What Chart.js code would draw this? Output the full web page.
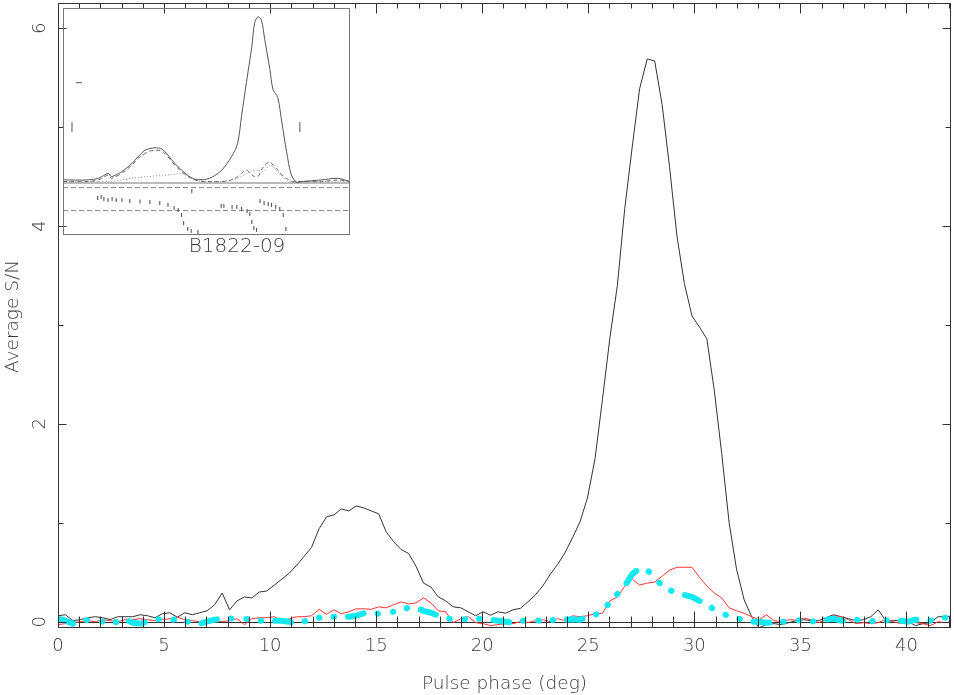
<!DOCTYPE html>
<html><head><meta charset="utf-8">
<script src="https://cdn.jsdelivr.net/npm/chart.js@4/dist/chart.umd.min.js"></script>
<style>
html,body{margin:0;padding:0;background:#fff;}
#wrap{position:relative;width:954px;height:695px;overflow:hidden;}
#main{position:absolute;left:0;top:0;}
#inset{position:absolute;left:63px;top:8px;}
</style></head><body>
<div id="wrap"><canvas id="main" width="954" height="695"></canvas><canvas id="inset" width="287" height="227"></canvas></div>
<script>
// ---- main chart data ----
const phase = [0.00,0.35,0.70,1.05,1.41,1.76,2.11,2.46,2.81,3.16,
3.52,3.87,4.22,4.57,4.92,5.27,5.63,5.98,6.33,6.68,
7.03,7.38,7.74,8.09,8.44,8.79,9.14,9.49,9.84,10.20,
10.55,10.90,11.25,11.60,11.95,12.31,12.66,13.01,13.36,13.71,
14.06,14.42,14.77,15.12,15.47,15.82,16.17,16.53,16.88,17.23,
17.58,17.93,18.28,18.63,18.99,19.34,19.69,20.04,20.39,20.74,
21.10,21.45,21.80,22.15,22.50,22.85,23.21,23.56,23.91,24.26,
24.61,24.96,25.32,25.67,26.02,26.37,26.72,27.07,27.42,27.78,
28.13,28.48,28.83,29.18,29.53,29.89,30.24,30.59,30.94,31.29,
31.64,31.99,32.35,32.70,33.05,33.40,33.75,34.10,34.46,34.81,
35.16,35.51,35.86,36.21,36.56,36.92,37.27,37.62,37.97,38.32,
38.67,39.02,39.38,39.73,40.08,40.43,40.78,41.13,41.49,41.84,42.19];
const totalSN = [0.06,0.07,0.01,0.02,0.04,0.05,0.04,0.02,0.05,0.05,
0.05,0.07,0.06,0.04,0.08,0.09,0.045,0.09,0.07,0.09,
0.11,0.17,0.29,0.12,0.21,0.25,0.24,0.30,0.31,0.37,
0.43,0.49,0.57,0.66,0.75,0.94,1.06,1.08,1.14,1.12,
1.17,1.15,1.12,1.09,0.91,0.81,0.73,0.69,0.56,0.39,
0.35,0.25,0.21,0.15,0.14,0.10,0.06,0.10,0.065,0.10,
0.085,0.12,0.135,0.20,0.27,0.36,0.48,0.58,0.70,0.85,
1.01,1.25,1.65,2.25,2.87,3.40,4.18,4.80,5.39,5.69,
5.67,5.23,4.60,3.90,3.42,3.09,2.98,2.86,2.34,1.70,
1.00,0.53,0.22,0.05,-0.06,-0.03,-0.02,-0.03,-0.01,0.01,
0.02,0.01,0.01,0.04,0.07,0.05,0.03,0.01,0.02,0.05,
0.12,0.01,0.01,0.01,0.0,-0.04,-0.02,-0.01,0.05,0.05,0.06];
const redSN = [-0.03,-0.02,-0.01,0.0,0.01,0.0,0.02,0.01,0.0,0.02,
0.02,0.03,0.02,0.01,0.02,0.03,0.045,0.02,0.01,0.0,
0.01,0.01,0.0,0.01,0.03,-0.03,0.03,0.04,0.04,0.05,
0.01,0.03,0.05,0.05,0.06,0.125,0.075,0.12,0.08,0.10,
0.13,0.13,0.125,0.15,0.14,0.17,0.20,0.18,0.19,0.24,
0.19,0.11,0.10,-0.01,0.03,0.05,-0.01,-0.02,-0.04,-0.03,
-0.02,-0.02,0.0,-0.01,0.01,0.02,0.0,0.03,0.01,0.06,
0.05,0.06,0.08,0.085,0.21,0.25,0.36,0.43,0.37,0.39,
0.40,0.46,0.52,0.55,0.55,0.55,0.45,0.36,0.29,0.24,
0.14,0.11,0.085,0.05,0.02,0.07,0.01,0.0,0.02,0.015,
0.035,0.02,-0.01,0.02,0.06,0.05,0.02,-0.02,-0.01,-0.02,
-0.01,0.02,0.0,-0.02,0.01,-0.01,-0.02,-0.04,0.0,-0.01,0.0];
const cyanSN = [0.03,0.01,-0.02,-0.01,0.02,0.01,0.0,0.02,-0.01,0.02,
-0.01,-0.02,0.0,0.02,0.03,0.01,0.03,0.0,0.0,-0.02,
0.0,0.02,0.03,0.03,0.04,0.03,0.02,0.01,0.01,0.01,
0.01,0.0,-0.02,0.0,0.04,0.04,0.05,0.05,0.05,0.05,
0.06,0.085,0.09,0.08,0.09,0.10,0.11,0.145,0.14,0.11,
0.09,0.06,0.04,0.02,0.02,0.03,0.03,0.03,0.02,0.01,
0.0,-0.01,0.01,0.01,0.02,0.0,0.01,0.03,0.02,0.025,
0.02,0.05,0.07,0.10,0.20,0.28,0.36,0.48,0.54,0.52,
0.45,0.36,0.32,0.29,0.27,0.25,0.21,0.18,0.12,0.08,
0.06,0.04,0.01,0.0,0.0,-0.01,-0.01,0.0,0.0,0.01,
0.02,0.0,0.01,0.02,0.03,0.01,0.01,0.02,0.01,0.0,
0.02,0.01,0.02,0.01,0.0,0.02,0.01,0.01,0.05,0.04,0.07];
const xMajorTicks = [0,5,10,15,20,25,30,35,40];
const xTickLabels = ['0','5','10','15','20','25','30','35','40'];
const xMinorTicks = [1,2,3,4,6,7,8,9,11,12,13,14,16,17,18,19,21,22,23,24,26,27,28,29,31,32,33,34,36,37,38,39,41,42];
const yMajorTicks = [0,2,4,6];
const yTickLabels = ['0','2','4','6'];
const yMinorTicks = [1,3,5];
const xTitle = 'Pulse phase (deg)';
const yTitle = 'Average S/N';
const insetTitle = 'B1822-09';

// ---- inset data ----
const insetPhase = [0.05,3.7,5.2,6.65,7.1,8.6,10.1,11.0,12.0,12.75,13.5,14.5,15.4,16.4,17.4,18.4,19.35,20.8,22.0,23.3,24.7,25.6,26.2,26.9,27.7,28.1,28.6,29.1,29.6,30.35,30.8,31.5,32.1,32.8,33.5,34.3,35.0,37.9,40.3,42.1];
const insetI = [0.01,0.01,0.02,0.05,0.03,0.06,0.11,0.15,0.19,0.20,0.205,0.198,0.16,0.11,0.07,0.035,0.015,0.013,0.03,0.07,0.15,0.23,0.40,0.60,0.82,0.96,1.0,0.98,0.86,0.68,0.56,0.51,0.36,0.18,0.04,-0.005,0.0,0.01,0.02,0.0];
const insetL = [0.0,0.0,0.01,0.04,0.02,0.05,0.10,0.14,0.17,0.185,0.19,0.185,0.15,0.10,0.06,0.03,0.01,0.0,0.0,0.0,0.01,0.03,0.05,0.07,0.04,0.03,0.03,0.07,0.10,0.12,0.10,0.07,0.04,0.02,0.0,0.0,0.0,0.0,0.01,0.0];
const insetV = [0,0,0,0,0,0.01,0.02,0.025,0.03,0.03,0.035,0.035,0.04,0.045,0.05,0.03,0.01,0,0,0,0.01,0.02,0.03,0.05,0.07,0.07,0.07,0.06,0.07,0.1,0.09,0.06,0.03,0.01,0,0,0,0,0,0];
const paPhase = [5.1,5.6,6.0,6.6,7.2,7.8,8.65,9.8,11.3,12.75,14.2,15.4,16.3,16.9,17.4,17.7,18.3,18.8,19.8,18.9,
23.2,23.6,24.8,25.5,26.2,27.0,27.4,27.7,28.0,28.4,
28.9,29.5,30.1,30.6,31.2,31.8,32.3,32.7];
const paAngle = [47,51,43,39,43,39,39,35,33,31,27,20,8,0,-20,-51,-74,-82,-86,74,
16,16,12,12,4,-4,-16,-47,-70,-78,
35,27,23,20,12,4,-20,-74];
const paRefLines = [90,0];
const markHPhase = [2.35], markHVal = [0.60];
const markVPhase = [1.32,34.75], markVVal = [0.33,0.33];

const FONT = '"DejaVu Sans", sans-serif';
const TXT = '#3a3a3a';

const framePlugin = {
  id: 'frame',
  beforeDatasetsDraw(chart) {
    const {ctx, chartArea: a, scales: {y}} = chart;
    ctx.save();
    ctx.strokeStyle = '#333'; ctx.lineWidth = 1;
    const y0 = Math.round(y.getPixelForValue(0)) + 0.5;
    ctx.beginPath(); ctx.moveTo(a.left, y0); ctx.lineTo(a.right, y0); ctx.stroke();
    ctx.restore();
  },
  afterDatasetsDraw(chart) {
    const {ctx, chartArea: a, scales: {x, y}} = chart;
    ctx.save();
    ctx.strokeStyle = '#333'; ctx.lineWidth = 1;
    const L = a.left + 0.5, R = a.right - 0.5, T = a.top + 0.5, B = a.bottom - 0.5;
    ctx.strokeRect(L, T, R - L, B - T);
    ctx.beginPath();
    const xt = (v, lb, lt) => { const px = Math.round(x.getPixelForValue(v)) + 0.5;
      ctx.moveTo(px, B); ctx.lineTo(px, B - lb); ctx.moveTo(px, T); ctx.lineTo(px, T + lt); };
    xMajorTicks.forEach(v => xt(v, 16, 10));
    xMinorTicks.forEach(v => xt(v, 11, 5));
    const yt = (v, l) => { const py = Math.round(y.getPixelForValue(v)) + 0.5;
      ctx.moveTo(L, py); ctx.lineTo(L + l, py); ctx.moveTo(R, py); ctx.lineTo(R - l, py); };
    yMajorTicks.forEach(v => yt(v, 8));
    yMinorTicks.forEach(v => yt(v, 5));
    ctx.stroke();
    // labels
    ctx.fillStyle = TXT;
    ctx.font = '200 18px ' + FONT;
    ctx.textAlign = 'center'; ctx.textBaseline = 'middle';
    xMajorTicks.forEach((v, i) => ctx.fillText(xTickLabels[i], x.getPixelForValue(v), 646));
    yMajorTicks.forEach((v, i) => {
      ctx.save(); ctx.translate(40, y.getPixelForValue(v)); ctx.rotate(-Math.PI / 2);
      ctx.fillText(yTickLabels[i], 0, 0); ctx.restore();
    });
    ctx.font = '200 18.5px ' + FONT;
    ctx.fillText(xTitle, (a.left + a.right) / 2, 684);
    ctx.save(); ctx.translate(13, (a.top + a.bottom) / 2 + 1); ctx.rotate(-Math.PI / 2);
    ctx.fillText(yTitle, 0, 0); ctx.restore();
    ctx.font = '200 20px ' + FONT;
    ctx.fillText(insetTitle, 237, 247);
    ctx.restore();
  }
};

const pts = (xs, ys) => xs.map((v, i) => ({x: v, y: ys[i]}));

new Chart(document.getElementById('main'), {
  type: 'line',
  data: { datasets: [
    { label: 'cyan', data: pts(phase, cyanSN), borderColor: '#14e8f0', borderWidth: 6,
      borderDash: [16, 14, 0.5, 15, 0.5, 14, 0.5, 14], borderCapStyle: 'round', borderJoinStyle: 'round',
      pointRadius: 0, tension: 0, order: 1 },
    { label: 'red', data: pts(phase, redSN), borderColor: '#ff3535', borderWidth: 1,
      pointRadius: 0, tension: 0, order: 2 },
    { label: 'total', data: pts(phase, totalSN), borderColor: '#333', borderWidth: 1,
      pointRadius: 0, tension: 0, order: 3 }
  ]},
  options: {
    responsive: false, animation: false, devicePixelRatio: 1,
    layout: { autoPadding: false, padding: { left: 58, top: 3, right: 3, bottom: 67 } },
    plugins: { legend: { display: false }, tooltip: { enabled: false } },
    scales: {
      x: { type: 'linear', min: 0, max: 42.1, display: false },
      y: { type: 'linear', min: -0.064, max: 6.256, display: false }
    }
  },
  plugins: [framePlugin]
});

const insetPlugin = {
  id: 'insetFrame',
  beforeDatasetsDraw(chart) {
    const {ctx, chartArea: a, scales: {pa, y}} = chart;
    ctx.save();
    ctx.strokeStyle = '#888'; ctx.lineWidth = 1; ctx.setLineDash([5, 3]);
    paRefLines.forEach(v => { const py = Math.round(pa.getPixelForValue(v)) + 0.5;
      ctx.beginPath(); ctx.moveTo(a.left, py); ctx.lineTo(a.right, py); ctx.stroke(); });
    ctx.setLineDash([]);
    ctx.strokeStyle = '#bbb'; ctx.lineWidth = 2;
    const y0 = Math.round(y.getPixelForValue(0)) + 1;
    ctx.beginPath(); ctx.moveTo(a.left, y0); ctx.lineTo(a.right, y0); ctx.stroke();
    ctx.restore();
  },
  afterDraw(chart) {
    const {ctx, chartArea: a} = chart;
    ctx.save(); ctx.strokeStyle = '#777'; ctx.lineWidth = 1;
    ctx.strokeRect(a.left + 0.5, a.top + 0.5, a.right - a.left - 1, a.bottom - a.top - 1);
    ctx.restore();
  }
};

new Chart(document.getElementById('inset'), {
  type: 'line',
  data: { datasets: [
    { data: pts(insetPhase, insetI), borderColor: '#555', borderWidth: 1, pointRadius: 0, tension: 0.3, yAxisID: 'y' },
    { data: pts(insetPhase, insetL), borderColor: '#666', borderWidth: 1, borderDash: [4, 3], pointRadius: 0, tension: 0.3, yAxisID: 'y' },
    { data: pts(insetPhase, insetV), borderColor: '#888', borderWidth: 1, borderDash: [1, 2], pointRadius: 0, tension: 0.3, yAxisID: 'y' },
    { data: pts(paPhase, paAngle), showLine: false, pointStyle: 'line', rotation: 90, pointRadius: 2,
      borderColor: '#444', borderWidth: 1, yAxisID: 'pa' },
    { data: pts(markHPhase, markHVal), showLine: false, pointStyle: 'line', pointRadius: 3,
      borderColor: '#555', borderWidth: 1, yAxisID: 'y' },
    { data: pts(markVPhase, markVVal), showLine: false, pointStyle: 'line', rotation: 90, pointRadius: 5,
      borderColor: '#555', borderWidth: 1, yAxisID: 'y' }
  ]},
  options: {
    responsive: false, animation: false, devicePixelRatio: 1,
    layout: { autoPadding: false, padding: 0 },
    plugins: { legend: { display: false }, tooltip: { enabled: false } },
    scales: {
      x: { type: 'linear', min: 0, max: 42.1, display: false },
      y: { type: 'linear', min: -0.324, max: 1.053, display: false },
      pa: { type: 'linear', min: -97.8, max: 790, display: false }
    }
  },
  plugins: [insetPlugin]
});
</script>
</body></html>
